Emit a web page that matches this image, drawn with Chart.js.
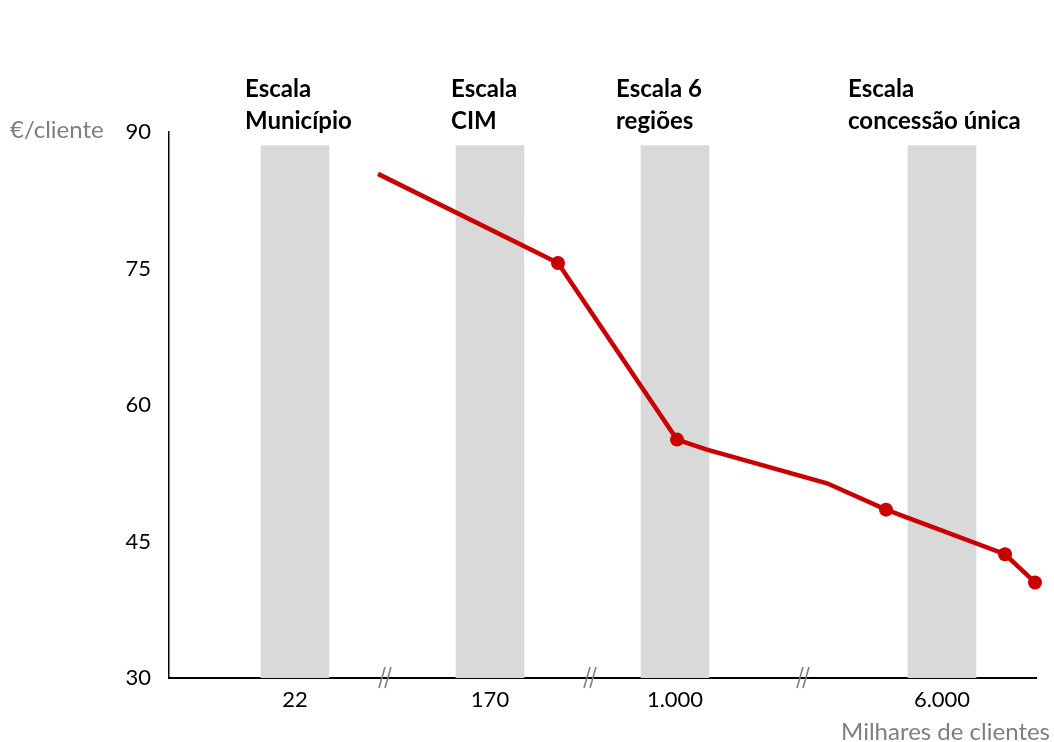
<!DOCTYPE html>
<html lang="pt">
<head>
    <meta charset="UTF-8">
    <title>Custo por cliente vs escala</title>
    <script src="https://cdn.jsdelivr.net/npm/chart.js"></script>
    <style>
        * {
            margin: 0;
            padding: 0;
        }
        body {
            background: #fff;
        }
        #chartContainer {
            width: 1054px;
            height: 742px;
        }
    </style>
</head>
<body>
    <div id="chartContainer">
        <canvas id="costChart"></canvas>
    </div>

    <script>
        // x is a broken axis, so positions are in plain axis units (0 = y axis)
        const yTicks = [30, 45, 60, 75, 90];
        const tickLabels = ['22', '170', '1.000', '6.000'];
        const bandX = [12.6, 32.1, 50.6, 77.3];
        const bandTop = 88.5;
        const breakX = [21.6, 42.1, 63.4];

        const headerX = [7.6, 28.2, 44.7, 67.9];
        const headerLines = [
            ['Escala', 'Município'],
            ['Escala', 'CIM'],
            ['Escala 6', 'regiões'],
            ['Escala', 'concessão única']
        ];

        const costX = [20.9, 38.9, 50.8, 53.8, 65.8, 71.7, 83.6, 86.6];
        const costY = [85.4, 75.6, 56.2, 55.1, 51.4, 48.5, 43.6, 40.5];
        const hasMarker = [0, 1, 1, 0, 0, 1, 1, 1];

        const yTitle = '€/cliente';
        const xTitle = 'Milhares de clientes';

        const FONT = 'Lato, "Open Sans", sans-serif';
        const RED = '#c80000';
        const GREY_TEXT = '#7f7f7f';

        const textPlugin = {
            id: 'extraText',
            afterDraw(chart) {
                const ctx = chart.ctx;
                const xs = chart.scales.x;
                const area = chart.chartArea;
                ctx.save();

                // axis break marks
                ctx.strokeStyle = '#808080';
                ctx.lineWidth = 1.6;
                breakX.forEach(v => {
                    const px = xs.getPixelForValue(v);
                    [-3, 3].forEach(dx => {
                        ctx.beginPath();
                        ctx.moveTo(px + dx - 3, area.bottom + 10);
                        ctx.lineTo(px + dx + 3, area.bottom - 11);
                        ctx.stroke();
                    });
                });

                // scale headers
                ctx.fillStyle = '#000';
                ctx.font = 'bold 24px ' + FONT;
                ctx.textAlign = 'left';
                ctx.textBaseline = 'alphabetic';
                headerLines.forEach((lines, i) => {
                    const px = xs.getPixelForValue(headerX[i]);
                    lines.forEach((t, j) => ctx.fillText(t, px, 97 + j * 32));
                });

                // axis titles
                ctx.fillStyle = GREY_TEXT;
                ctx.font = '24px ' + FONT;
                ctx.textBaseline = 'middle';
                ctx.fillText(yTitle, 10, 130);
                ctx.textAlign = 'right';
                ctx.fillText(xTitle, 1050, 732);

                ctx.restore();
            }
        };

        const ctx = document.getElementById('costChart').getContext('2d');
        const costChart = new Chart(ctx, {
            data: {
                datasets: [
                    {
                        type: 'line',
                        label: 'Custo',
                        data: costX.map((x, i) => ({ x: x, y: costY[i] })),
                        borderColor: RED,
                        backgroundColor: RED,
                        borderWidth: 4.5,
                        pointRadius: hasMarker.map(m => m ? 7 : 0),
                        pointBorderWidth: 0,
                        tension: 0,
                        clip: false,
                        order: 1
                    },
                    {
                        type: 'bar',
                        label: 'Escalas',
                        data: bandX.map(x => ({ x: x, y: [30, bandTop] })),
                        backgroundColor: '#d9d9d9',
                        barThickness: 68,
                        order: 2
                    }
                ]
            },
            options: {
                responsive: true,
                maintainAspectRatio: false,
                animation: false,
                layout: {
                    padding: { top: 132, right: 18, left: 0, bottom: 0 }
                },
                scales: {
                    x: {
                        type: 'linear',
                        min: 0,
                        max: 86.7,
                        offset: false,
                        grid: { display: false, drawTicks: false },
                        border: { display: true, color: '#000', width: 2 },
                        afterBuildTicks: scale => {
                            scale.ticks = bandX.map(v => ({ value: v }));
                        },
                        afterFit: scale => { scale.height = 64; },
                        ticks: {
                            autoSkip: false,
                            maxRotation: 0,
                            padding: 9,
                            color: '#000',
                            font: { family: FONT, size: 22 },
                            callback: (value, index) => tickLabels[index]
                        }
                    },
                    y: {
                        min: 30,
                        max: 90,
                        grid: { display: false, drawTicks: false },
                        border: { display: true, color: '#000', width: 1.5 },
                        afterBuildTicks: scale => {
                            scale.ticks = yTicks.map(v => ({ value: v }));
                        },
                        afterFit: scale => { scale.width = 169; },
                        ticks: {
                            padding: 18,
                            color: '#000',
                            font: { family: FONT, size: 22 }
                        }
                    }
                },
                plugins: {
                    legend: { display: false },
                    tooltip: { enabled: false }
                }
            },
            plugins: [textPlugin]
        });
    </script>
</body>
</html>
